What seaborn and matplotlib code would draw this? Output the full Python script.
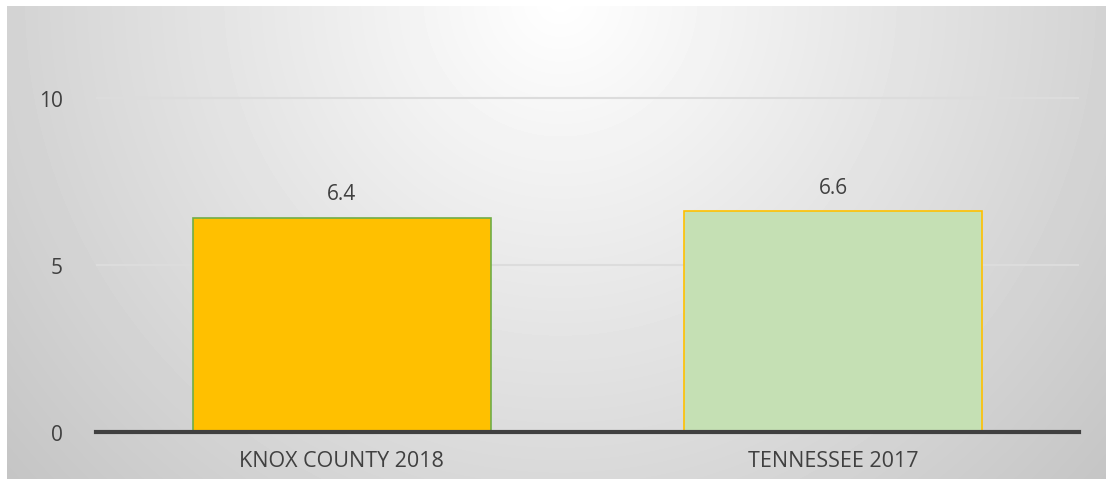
import numpy as np
import pandas as pd
import matplotlib
matplotlib.use('Agg')
import matplotlib.pyplot as plt
import seaborn as sns

# Data
categories = ['KNOX COUNTY 2018', 'TENNESSEE 2017']
values = [6.4, 6.6]
fill_colors = ['#FFC000', '#C5E0B4']
edge_colors = ['#70AD47', '#FFC000']
y_ticks = [0, 5, 10]

df = pd.DataFrame({'place': categories, 'value': values})

sns.set_theme(style='white')
plt.rcParams['font.family'] = ['Open Sans', 'DejaVu Sans']

W, H = 1106, 481
fig = plt.figure(figsize=(W / 100, H / 100), dpi=100, facecolor='white')

# Radial grey gradient behind the chart (light at top centre)
bg_ax = fig.add_axes([0, 0, 1, 1], zorder=-1)
x0, x1, y0, y1 = 7, W, 7, 480
xx, yy = np.meshgrid(np.arange(x0, x1), np.arange(y0, y1))
dist = np.sqrt((xx - 560) ** 2 + (yy - 0) ** 2)
shade = np.clip(255 - 0.08 * dist, 192, 255) / 255.0
bg_ax.imshow(shade, cmap='gray', vmin=0, vmax=1, extent=(x0, x1, H - y1, H - y0),
             aspect='auto', interpolation='bilinear')
bg_ax.set_xlim(0, W)
bg_ax.set_ylim(0, H)
bg_ax.axis('off')

ax = fig.add_axes([96 / W, 48 / H, (1079 - 96) / W, 401 / H])
ax.set_facecolor('none')

sns.barplot(data=df, x='place', y='value', hue='place', palette=fill_colors,
            width=0.607, legend=False, ax=ax, saturation=1)

for patch, ec in zip(ax.patches, edge_colors):
    patch.set_edgecolor(ec)
    patch.set_linewidth(1.2)

for container in ax.containers:
    ax.bar_label(container, fmt='%.1f', padding=10, fontsize=15, color='#404040')

ax.set_xlim(-0.5, 1.5)
ax.set_ylim(0, 12)
ax.set_yticks(y_ticks)
ax.set_xlabel('')
ax.set_ylabel('')

for yv in y_ticks[1:]:
    ax.axhline(yv, color='#dcdcdc', linewidth=1.5, zorder=0)

for side in ['top', 'right', 'left']:
    ax.spines[side].set_visible(False)
ax.spines['bottom'].set_color('#404040')
ax.spines['bottom'].set_linewidth(3)

ax.tick_params(axis='y', length=0, pad=24, labelsize=15, labelcolor='#404040')
ax.tick_params(axis='x', length=0, pad=13, labelsize=15.5, labelcolor='#404040')

fig.savefig('out.png', dpi=100, facecolor='white')
